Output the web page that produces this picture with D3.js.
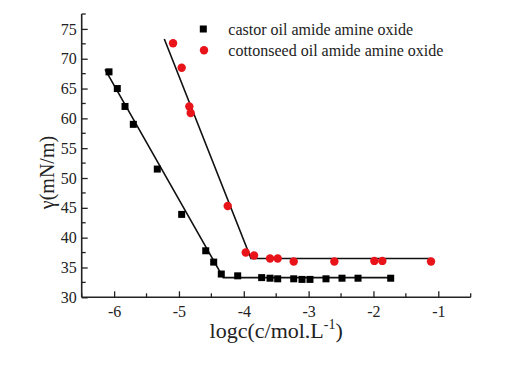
<!DOCTYPE html>
<html>
<head>
<meta charset="utf-8">
<script src="https://cdn.jsdelivr.net/npm/d3@7"></script>
<style>
  html, body { margin: 0; padding: 0; background: #fff; }
  svg text { font-family: "Liberation Serif", "Times New Roman", serif; fill: #222; }
</style>
</head>
<body>
<svg id="chart" width="526" height="375"></svg>
<script>
// ---- data ----
const castorX = [-6.079, -5.951, -5.832, -5.704, -5.334, -4.958, -4.587, -4.464, -4.347, -4.094,
                 -3.724, -3.595, -3.477, -3.23, -3.102, -2.979, -2.732, -2.485, -2.238, -1.734];
const castorY = [67.8, 65.0, 62.0, 59.0, 51.5, 43.9, 37.8, 35.9, 33.9, 33.6,
                 33.3, 33.2, 33.1, 33.1, 33.0, 33.0, 33.1, 33.2, 33.2, 33.2];
const cottonX = [-5.091, -4.958, -4.840, -4.819, -4.248, -3.970, -3.842, -3.595, -3.477, -3.23, -2.603, -1.986, -1.863, -1.112];
const cottonY = [72.6, 68.5, 62.0, 60.9, 45.3, 37.5, 37.0, 36.5, 36.5, 36.0, 36.0, 36.1, 36.1, 36.0];
const castorFitX = [-6.14, -4.316, -1.694];
const castorFitY = [68.2, 33.3, 33.3];
const cottonFitX = [-5.226, -3.889, -1.11];
const cottonFitY = [73.3, 36.5, 36.5];
const xTicks = [-6, -5, -4, -3, -2, -1];
const yTicks = [30, 35, 40, 45, 50, 55, 60, 65, 70, 75];
const legendLabels = ["castor oil amide amine oxide", "cottonseed oil amide amine oxide"];
const xTitle = "logc(c/mol.L";
const yTitle = "γ(mN/m)";

// ---- layout ----
const FONT = '"Liberation Serif", "Times New Roman", serif';
const svg = d3.select("#chart");
const L = 81.7, R = 470.7, T = 14, B = 297.3;
const x = d3.scaleLinear().domain([-6.5, -0.5]).range([L, R]);
const y = d3.scaleLinear().domain([30, 77.5]).range([B, T]);

// minor ticks
const xMinor = d3.range(-6.5, -0.49, 0.5).filter(v => Math.abs(v - Math.round(v)) > 0.01);
const yMinor = d3.range(32.5, 77.6, 5);

const gx = svg.append("g").attr("transform", `translate(0,${B})`);
gx.call(d3.axisBottom(x).tickValues(xTicks).tickSizeInner(-6).tickSizeOuter(0).tickPadding(8).tickFormat(d3.format("d")));
gx.attr("font-family", null);
gx.selectAll(".minor").data(xMinor).enter().append("line")
  .attr("x1", d => x(d)).attr("x2", d => x(d)).attr("y1", 0).attr("y2", -4)
  .attr("stroke", "#222").attr("stroke-width", 1.3);
gx.select(".domain").attr("stroke", "#222").attr("stroke-width", 1.6).attr("d", `M${L},0H${R}`);
gx.selectAll(".tick line").attr("stroke", "#222").attr("stroke-width", 1.3);
gx.selectAll(".tick text").attr("font-size", 16).attr("fill", "#222").style("font-family", FONT)
  .text(d => d < 0 ? "-" + Math.abs(d) : d);

const gy = svg.append("g").attr("transform", `translate(${L},0)`);
gy.call(d3.axisLeft(y).tickValues(yTicks).tickSizeInner(-6).tickSizeOuter(0).tickPadding(5).tickFormat(d3.format("d")));
gy.attr("font-family", null);
gy.selectAll(".minor").data(yMinor).enter().append("line")
  .attr("x1", 0).attr("x2", 4).attr("y1", d => y(d)).attr("y2", d => y(d))
  .attr("stroke", "#222").attr("stroke-width", 1.3);
gy.select(".domain").attr("stroke", "#222").attr("stroke-width", 1.6).attr("d", `M0,${B}V${T}`);
gy.selectAll(".tick line").attr("stroke", "#222").attr("stroke-width", 1.3);
gy.selectAll(".tick text").attr("font-size", 16).attr("fill", "#222").style("font-family", FONT);

// fit lines
const line = d3.line().x(d => x(d[0])).y(d => y(d[1]));
svg.append("path").datum(castorFitX.map((v, i) => [v, castorFitY[i]]))
  .attr("d", line).attr("fill", "none").attr("stroke", "#111").attr("stroke-width", 1.6);
svg.append("path").datum(cottonFitX.map((v, i) => [v, cottonFitY[i]]))
  .attr("d", line).attr("fill", "none").attr("stroke", "#111").attr("stroke-width", 1.6);

// markers
const sq = 7;
svg.append("g").selectAll("rect").data(castorX.map((v, i) => [v, castorY[i]])).enter().append("rect")
  .attr("x", d => x(d[0]) - sq / 2).attr("y", d => y(d[1]) - sq / 2)
  .attr("width", sq).attr("height", sq).attr("fill", "#000");
svg.append("g").selectAll("circle").data(cottonX.map((v, i) => [v, cottonY[i]])).enter().append("circle")
  .attr("cx", d => x(d[0])).attr("cy", d => y(d[1])).attr("r", 4.2).attr("fill", "#e8141a");

// legend
const lg = svg.append("g");
lg.append("rect").attr("x", 203.3 - sq / 2).attr("y", 29 - sq / 2).attr("width", sq).attr("height", sq).attr("fill", "#000");
lg.append("circle").attr("cx", 204).attr("cy", 50.3).attr("r", 4.2).attr("fill", "#e8141a");
lg.append("text").attr("x", 228.3).attr("y", 34.8).attr("font-size", 16).text(legendLabels[0]);
lg.append("text").attr("x", 228.3).attr("y", 56).attr("font-size", 16).text(legendLabels[1]);

// axis titles
const xt = svg.append("text").attr("x", (L + R) / 2).attr("y", 338).attr("text-anchor", "middle").attr("font-size", 22);
xt.append("tspan").text(xTitle);
xt.append("tspan").attr("font-size", 14).attr("dy", -9).text("-1");
xt.append("tspan").attr("dy", 9).text(")");

svg.append("text").attr("transform", "translate(54,172.5) rotate(-90)")
  .attr("text-anchor", "middle").attr("font-size", 20).text(yTitle);
</script>
</body>
</html>
